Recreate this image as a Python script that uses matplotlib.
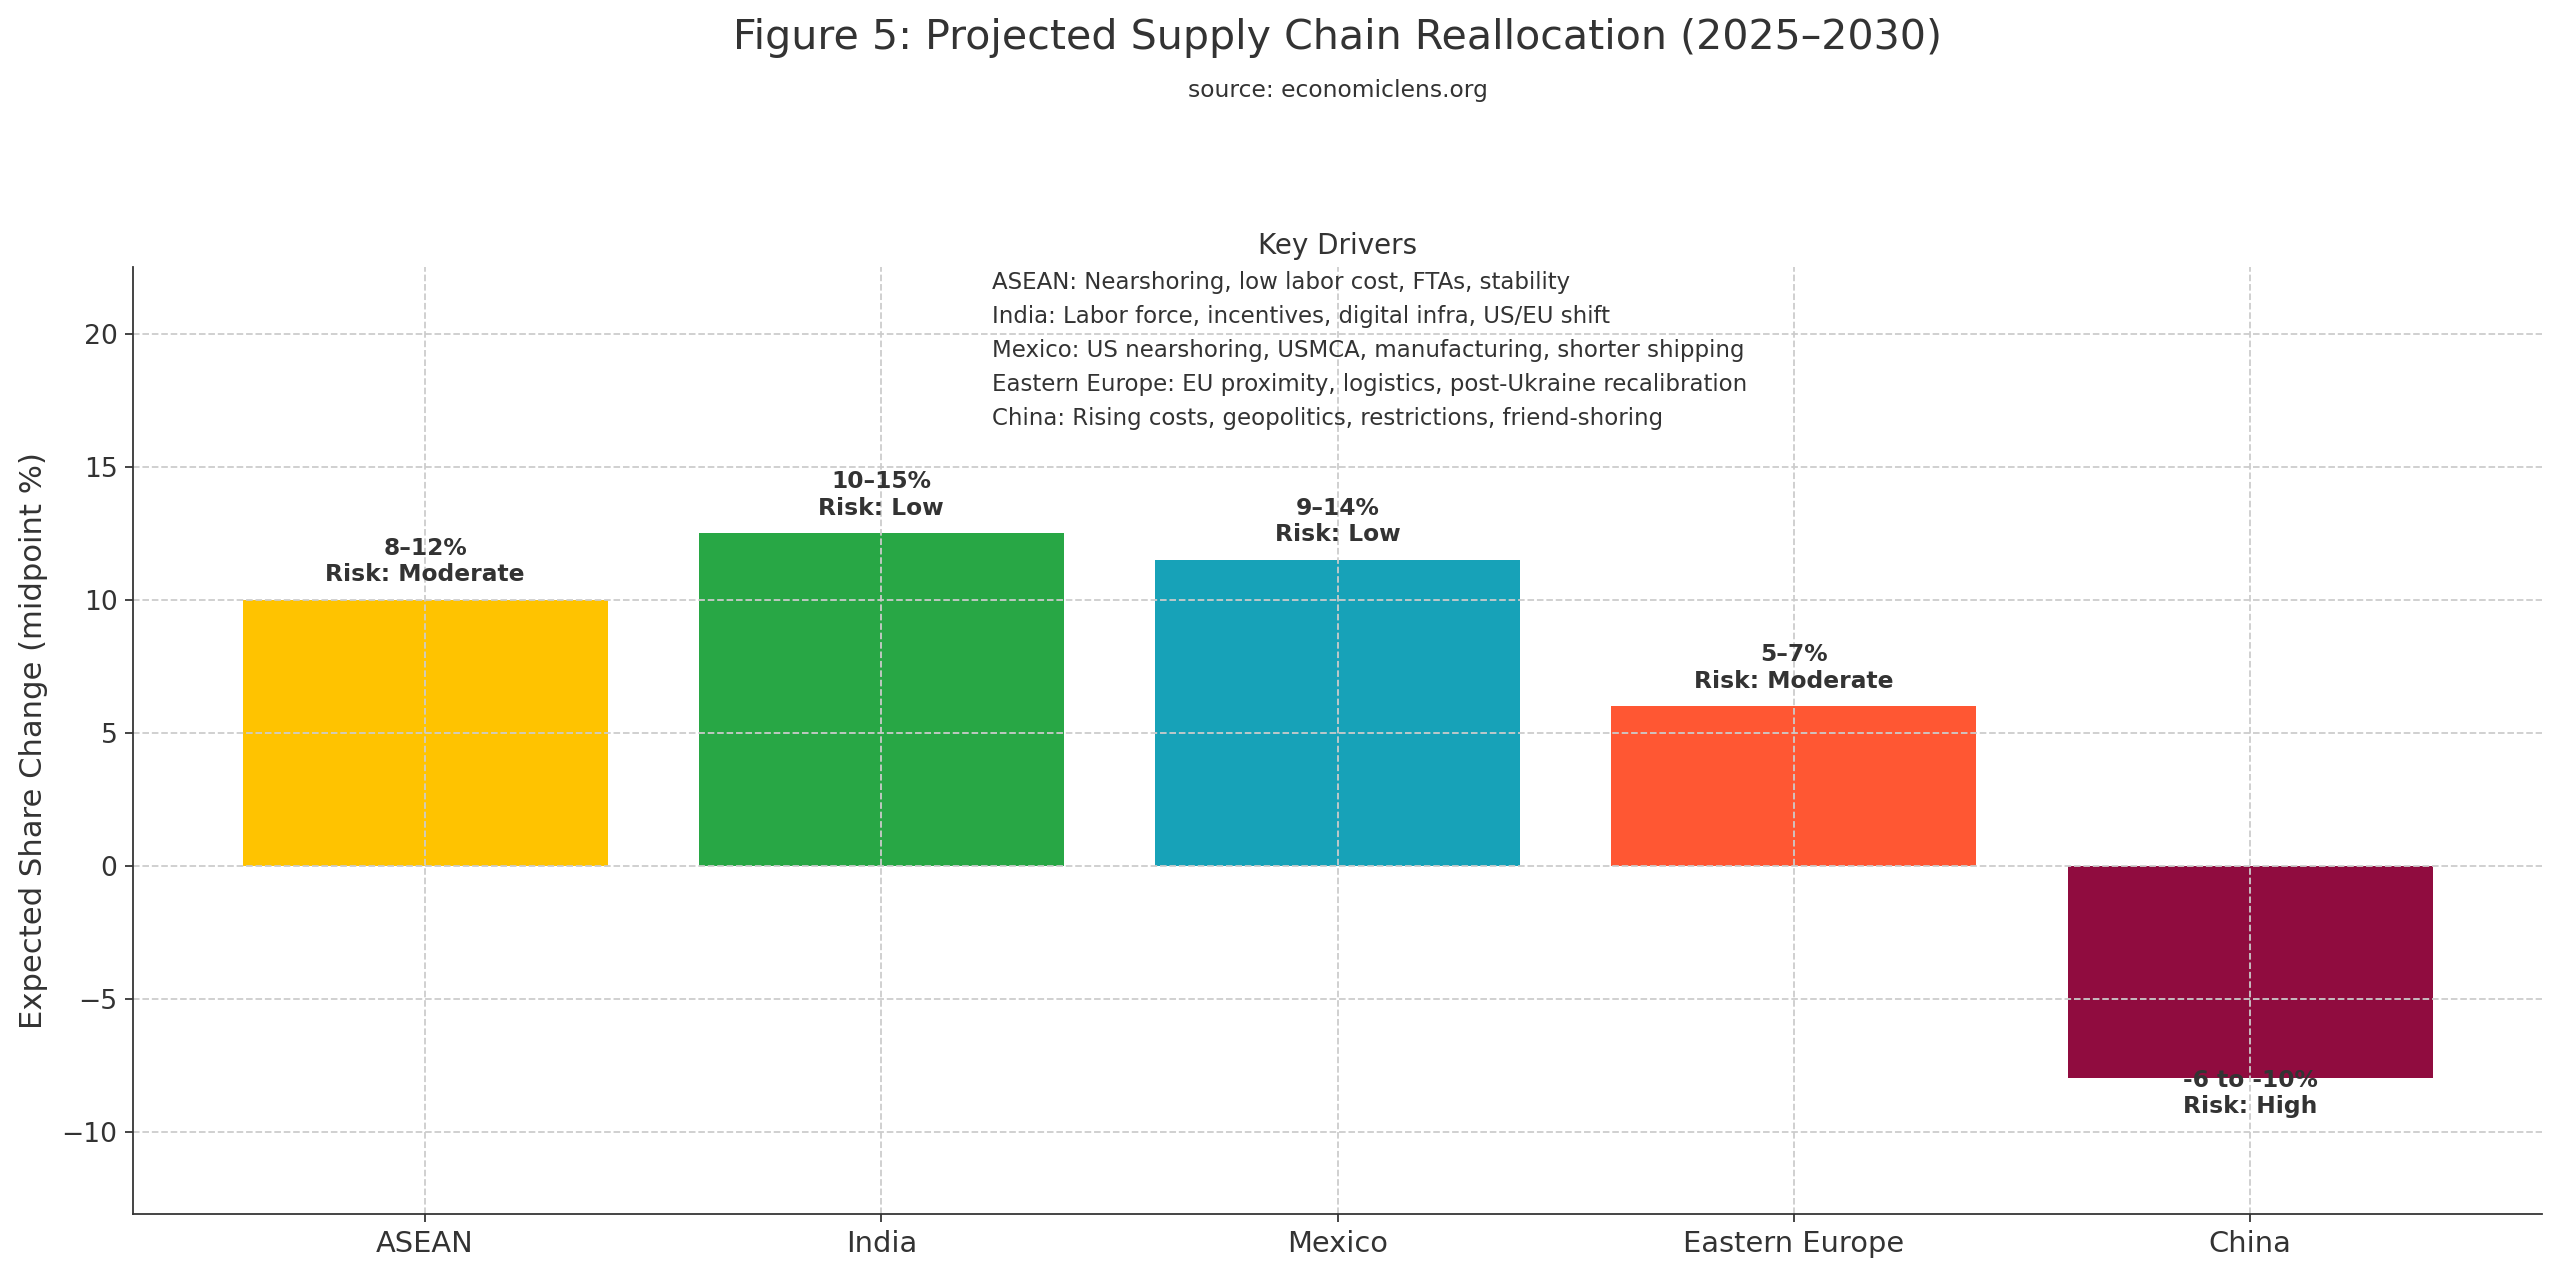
import matplotlib.pyplot as plt
from matplotlib.patches import Patch

# dati
regions = ["ASEAN", "India", "Mexico", "Eastern Europe", "China"]
midpoints = [10, 12.5, 11.5, 6, -8]
ranges = ["8–12%", "10–15%", "9–14%", "5–7%", "-6 to -10%"]
risks = ["Moderate", "Low", "Low", "Moderate", "High"]
colors = ["#FFC300", "#28A745", "#17A2B8", "#FF5733", "#900C3F"]
drivers = [
    "ASEAN: Nearshoring, low labor cost, FTAs, stability",
    "India: Labor force, incentives, digital infra, US/EU shift",
    "Mexico: US nearshoring, USMCA, manufacturing, shorter shipping",
    "Eastern Europe: EU proximity, logistics, post-Ukraine recalibration",
    "China: Rising costs, geopolitics, restrictions, friend-shoring",
]

dark = "#333333"
plt.rcParams["text.color"] = dark
plt.rcParams["axes.labelcolor"] = dark
plt.rcParams["xtick.color"] = dark
plt.rcParams["ytick.color"] = dark
plt.rcParams["axes.edgecolor"] = dark

fig = plt.figure(figsize=(16, 1271 / 160), dpi=160)
ax_box = [0.052, 0.0448, 0.941, 0.745]
ax = fig.add_axes(ax_box)
xc = ax_box[0] + ax_box[2] / 2  # centro degli assi

bars = ax.bar(regions, midpoints, color=colors, width=0.8)

# etichette sopra (o sotto) le barre
for bar, rng, risk, val in zip(bars, ranges, risks, midpoints):
    x = bar.get_x() + bar.get_width() / 2
    y = val + 0.5 if val >= 0 else val - 1.5
    ax.text(x, y, f"{rng}\nRisk: {risk}", ha="center", va="bottom",
            fontsize=10.5, fontweight="bold", color=dark)

ax.set_ylim(-13.1, 22.5)
ax.set_ylabel("Expected Share Change (midpoint %)", fontsize=13.8, labelpad=6)
ax.tick_params(axis="x", labelsize=13)
ax.tick_params(axis="y", labelsize=12)
ax.grid(True, linestyle="--", color="#cccccc", linewidth=0.8)
ax.spines["top"].set_visible(False)
ax.spines["right"].set_visible(False)

# legenda dei driver senza simboli
handles = [Patch(facecolor="none", edgecolor="none") for _ in drivers]
ax.legend(handles, drivers, title="Key Drivers", loc="upper center",
          bbox_to_anchor=(0.5, 1.059), frameon=False, fontsize=10.3,
          title_fontsize=12.5, labelspacing=0.48)

fig.text(xc, 0.970, "Figure 5: Projected Supply Chain Reallocation (2025–2030)",
         ha="center", va="center", fontsize=18.5)
fig.text(xc, 0.929, "source: economiclens.org", ha="center", va="center",
         fontsize=10.5)

fig.savefig("out.png", dpi=160)
